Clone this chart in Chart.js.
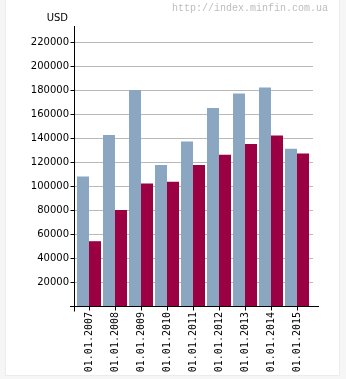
<!DOCTYPE html>
<html>
<head>
<meta charset="utf-8">
<script src="https://cdn.jsdelivr.net/npm/chart.js@4/dist/chart.umd.min.js"></script>
<style>
  html, body { margin: 0; padding: 0; background: #fff; }
  #wrap { width: 346px; height: 379px; }
</style>
</head>
<body>
<div id="wrap"><canvas id="chart" width="346" height="379"></canvas></div>
<script>
// dates of the report
var labels = ["01.01.2007", "01.01.2008", "01.01.2009", "01.01.2010", "01.01.2011",
              "01.01.2012", "01.01.2013", "01.01.2014", "01.01.2015"];
// first series (grey-blue)
var seriesA = [108000, 142500, 180000, 117500, 137000, 165000, 177000, 182000, 131000];
// second series (crimson)
var seriesB = [54000, 80000, 102000, 103500, 117500, 126000, 135000, 142000, 127000];
var yTicks = [20000, 40000, 60000, 80000, 100000, 120000, 140000, 160000, 180000, 200000, 220000];

var colA = "#8ba6c0";
var colB = "#9b0042";

// frame, grid, axes and captions
var decor = {
  id: "decor",
  beforeDraw: function (chart) {
    var c = chart.ctx;
    c.save();
    c.fillStyle = "#f6f6f6";
    c.fillRect(0, 0, chart.width, chart.height);
    c.fillStyle = "#ffffff";
    c.fillRect(6, 0, 333, 375);
    c.strokeStyle = "#ececec";
    c.lineWidth = 1;
    c.strokeRect(5.5, -1, 334, 376.5);
    c.restore();
  },
  beforeDatasetsDraw: function (chart) {
    var c = chart.ctx, a = chart.chartArea, y = chart.scales.y;
    c.save();
    c.strokeStyle = "#b8b8b8";
    c.lineWidth = 1;
    yTicks.forEach(function (v) {
      var py = Math.round(y.getPixelForValue(v)) + 0.5;
      c.beginPath();
      c.moveTo(a.left - 2, py);
      c.lineTo(a.right + 3, py);
      c.stroke();
    });
    c.restore();
  },
  afterDatasetsDraw: function (chart) {
    var c = chart.ctx, a = chart.chartArea, x = chart.scales.x, y = chart.scales.y;
    var ax = a.left - 1.5, by = Math.round(y.getPixelForValue(0)) + 0.5;
    c.save();
    c.strokeStyle = "#000";
    c.lineWidth = 1;
    c.beginPath();
    // y axis
    c.moveTo(ax, a.top);
    c.lineTo(ax, by + 5);
    // x axis
    c.moveTo(a.left - 6, by);
    c.lineTo(a.right + 9, by);
    yTicks.forEach(function (v) {
      var py = Math.round(y.getPixelForValue(v)) + 0.5;
      c.moveTo(ax - 4, py);
      c.lineTo(ax, py);
    });
    labels.forEach(function (l, i) {
      var px = Math.round(x.getPixelForValue(i)) + 0.5;
      c.moveTo(px, by);
      c.lineTo(px, by + 4);
    });
    c.stroke();

    c.fillStyle = "#000";
    c.font = "10px 'DejaVu Sans'";
    c.textAlign = "right";
    c.textBaseline = "middle";
    c.fillText("USD", 68, 18);

    c.fillStyle = "#bdbdbd";
    c.font = "10px 'Liberation Mono'";
    c.textAlign = "left";
    c.fillText("http://index.minfin.com.ua", 172, 8);
    c.restore();
  }
};

new Chart("chart", {
  type: "bar",
  data: {
    labels: labels,
    datasets: [{
      data: seriesA,
      backgroundColor: colA,
      borderWidth: 0
    }, {
      data: seriesB,
      backgroundColor: colB,
      borderWidth: 0
    }]
  },
  options: {
    responsive: false,
    animation: false,
    devicePixelRatio: 1,
    layout: { padding: { top: 26, right: 36, left: 0, bottom: 0 } },
    plugins: { legend: { display: false }, tooltip: { enabled: false } },
    datasets: { bar: { categoryPercentage: 24 / 26, barPercentage: 1 } },
    scales: {
      x: {
        grid: { display: false, drawTicks: false, tickLength: 0 },
        border: { display: false },
        afterFit: function (s) { s.height = 379 - 306; },
        ticks: {
          minRotation: 90,
          maxRotation: 90,
          padding: 6,
          color: "#000",
          font: { family: "'DejaVu Sans Mono'", size: 10 }
        }
      },
      y: {
        min: 0,
        max: 233333,
        grid: { display: false, drawTicks: false, tickLength: 0 },
        border: { display: false },
        afterFit: function (s) { s.width = 76; },
        afterBuildTicks: function (s) {
          s.ticks = yTicks.map(function (v) { return { value: v }; });
        },
        ticks: {
          autoSkip: false,
          padding: 7,
          color: "#000",
          font: { family: "'DejaVu Sans'", size: 10 },
          callback: function (v) { return String(v); }
        }
      }
    }
  },
  plugins: [decor]
});
</script>
</body>
</html>
